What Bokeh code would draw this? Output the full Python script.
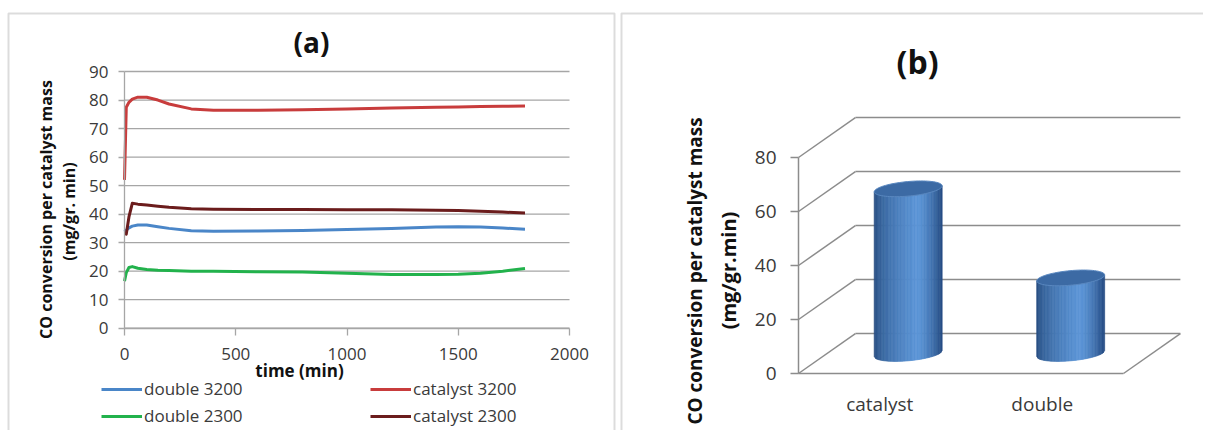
import numpy as np
from bokeh.plotting import figure
from bokeh.layouts import row
from bokeh.models import Range1d, FixedTicker, Legend, LegendItem, Label, BoxAnnotation
from bokeh.embed import file_html
from bokeh.resources import INLINE

# ---------------- data: panel (a) ----------------
time_min = [0, 8, 20, 35, 60, 100, 150, 200, 300, 400, 600, 800, 1000, 1200, 1400, 1500, 1600, 1700, 1800]
double_3200 = [33.8, 34.4, 35.2, 35.8, 36.2, 36.2, 35.6, 35.0, 34.2, 34.0, 34.1, 34.3, 34.6, 35.0, 35.5, 35.6, 35.5, 35.1, 34.7]
catalyst_3200 = [52.0, 77.5, 79.2, 80.3, 81.0, 81.0, 80.0, 78.6, 76.9, 76.4, 76.4, 76.6, 76.9, 77.2, 77.5, 77.6, 77.7, 77.8, 77.9]
double_2300 = [16.5, 19.5, 21.3, 21.6, 21.0, 20.6, 20.3, 20.2, 20.0, 20.0, 19.8, 19.7, 19.3, 18.8, 18.8, 18.9, 19.3, 20.0, 20.9]
catalyst_2300 = [33.3, 33.0, 39.0, 43.8, 43.5, 43.2, 42.8, 42.4, 41.9, 41.7, 41.6, 41.6, 41.5, 41.5, 41.4, 41.3, 41.0, 40.7, 40.4]
x_ticks_a = [0, 500, 1000, 1500, 2000]
y_ticks_a = [0, 10, 20, 30, 40, 50, 60, 70, 80, 90]

# ---------------- data: panel (b) ----------------
bar_categories = ["catalyst", "double"]
bar_values = [61, 28]
y_ticks_b = [0, 20, 40, 60, 80]

FONT = "Open Sans"
TXT = "#3a3a3a"
DARK = "#111111"
GRID = "#a6a6a6"
BORDER = "#8c8c8c"
H = 430

# ================= panel (a) =================
WA = 617
ax0, ay0, sx_a, sy_a = 124.0, 327.7, 0.2225, 2.852
pa = figure(width=WA, height=H, output_backend="svg", toolbar_location=None,
            x_range=Range1d(-ax0 / sx_a, (WA - ax0) / sx_a),
            y_range=Range1d(-(H - ay0) / sy_a, ay0 / sy_a), min_border=0)
pa.min_border_left = pa.min_border_right = pa.min_border_top = pa.min_border_bottom = 0
pa.title.visible = False
pa.outline_line_color = None
pa.xgrid.visible = False
pa.ygrid.visible = False

pa.segment(x0=[x_ticks_a[0]] * len(y_ticks_a), y0=y_ticks_a, x1=[x_ticks_a[-1]] * len(y_ticks_a), y1=y_ticks_a,
           line_color=GRID, line_width=1.3)

for ax in (pa.xaxis[0], pa.yaxis[0]):
    ax.fixed_location = 0
    ax.axis_line_color = GRID
    ax.axis_line_width = 1.3
    ax.major_tick_line_color = GRID
    ax.major_tick_line_width = 1.3
    ax.major_tick_in = 0
    ax.minor_tick_line_color = None
    ax.major_label_text_font = FONT
    ax.major_label_text_font_size = "17px"
    ax.major_label_text_color = TXT
pa.xaxis.ticker = FixedTicker(ticks=x_ticks_a)
pa.yaxis.ticker = FixedTicker(ticks=y_ticks_a)
pa.xaxis.bounds = (x_ticks_a[0], x_ticks_a[-1])
pa.yaxis.bounds = (y_ticks_a[0], y_ticks_a[-1])
pa.xaxis.major_tick_out = 7
pa.yaxis.major_tick_out = 6
pa.xaxis.major_label_standoff = 13
pa.yaxis.major_label_standoff = 10

r_d32 = pa.line(time_min, double_3200, line_color="#4a86c8", line_width=3, line_join="round")
r_c32 = pa.line(time_min, catalyst_3200, line_color="#c83c3c", line_width=3, line_join="round")
r_d23 = pa.line(time_min, double_2300, line_color="#22b24c", line_width=3, line_join="round")
r_c23 = pa.line(time_min, catalyst_2300, line_color="#6b1c1c", line_width=3, line_join="round")

def make_legend(items, loc):
    return Legend(items=items, location=loc, orientation="vertical", padding=0, spacing=4,
                  glyph_width=41, glyph_height=20, label_standoff=2, margin=0,
                  label_text_font=FONT, label_text_font_size="17px", label_text_color=TXT,
                  border_line_color=None, background_fill_alpha=0)

pa.add_layout(make_legend([LegendItem(label="double 3200", renderers=[r_d32]),
                           LegendItem(label="double 2300", renderers=[r_d23])], (101, 3)))
pa.add_layout(make_legend([LegendItem(label="catalyst 3200", renderers=[r_c32]),
                           LegendItem(label="catalyst 2300", renderers=[r_c23])], (370, 3)))

def lab(p, x, y, text, size, angle=0, bold=True, color=DARK):
    p.add_layout(Label(x=x, y=y, x_units="screen", y_units="screen", text=text, angle=angle, angle_units="deg",
                       text_font=FONT, text_font_size=size, text_font_style="bold" if bold else "normal",
                       text_align="center", text_baseline="middle", text_color=color))

lab(pa, 311, H - 41, "(a)", "28px")
lab(pa, 45, H - 209, "CO conversion per catalyst mass", "16px", angle=90)
lab(pa, 68, H - 211, "(mg/gr. min)", "16px", angle=90)
lab(pa, 299, H - 370, "time (min)", "17px")
pa.add_layout(BoxAnnotation(left=8, right=614, top=13, bottom=H + 10,
                            left_units="canvas", right_units="canvas", top_units="canvas", bottom_units="canvas",
                            fill_color=None, line_color=BORDER, line_width=2))

# ================= panel (b) : 3-D cylinders =================
WB = 586
X0B = 617
bx0, by0, sx_b, sy_b = 798.0 - X0B, 373.0, 162.5, 2.7
DX = 0.35
DY = 14.8
pb = figure(width=WB, height=H, output_backend="svg", toolbar_location=None,
            x_range=Range1d(-bx0 / sx_b, (WB - bx0) / sx_b),
            y_range=Range1d(-(H - by0) / sy_b, by0 / sy_b), min_border=0)
pb.min_border_left = pb.min_border_right = pb.min_border_top = pb.min_border_bottom = 0
pb.title.visible = False
pb.outline_line_color = None
pb.xgrid.visible = False
pb.ygrid.visible = False

n = len(bar_categories)
m = len(y_ticks_b)
pb.segment(x0=[DX] * m, y0=[v + DY for v in y_ticks_b], x1=[n + DX] * m, y1=[v + DY for v in y_ticks_b],
           line_color=BORDER, line_width=1.5)
pb.segment(x0=[0] * m, y0=y_ticks_b, x1=[DX] * m, y1=[v + DY for v in y_ticks_b], line_color=BORDER, line_width=1.5)
pb.segment(x0=[n], y0=[0], x1=[n + DX], y1=[DY], line_color=BORDER, line_width=1.5)

BW = 0.418
RY = 2.7
TILT = 1.1
dark_l = np.array([0x22, 0x46, 0x78])
light = np.array([0x5c, 0x96, 0xd8])
dark_r = np.array([0x25, 0x4b, 0x82])

def shade(t):
    pk = 0.63
    if t < pk:
        f = (t / pk) ** 0.55
        c = dark_l + (light - dark_l) * f
    else:
        f = ((t - pk) / (1 - pk)) ** 1.5
        c = light + (dark_r - light) * f
    c = np.clip(c, 0, 255).astype(int)
    return "#%02x%02x%02x" % tuple(c)

xs, ys, cols = [], [], []
tx, ty = [], []
NS = 48
for i, val in enumerate(bar_values):
    cx = i + 0.5 + DX / 2
    base = DY / 2
    top = base + val
    hw = BW / 2
    for k in range(NS):
        u0 = -1 + 2 * k / NS
        u1 = -1 + 2 * (k + 1) / NS
        b0 = base + TILT * u0 - RY * np.sqrt(max(0, 1 - u0 ** 2))
        b1 = base + TILT * u1 - RY * np.sqrt(max(0, 1 - u1 ** 2))
        xs.append([cx + u0 * hw, cx + u1 * hw, cx + u1 * hw, cx + u0 * hw])
        ys.append([top + TILT * u0, top + TILT * u1, b1, b0])
        cols.append(shade((k + 0.5) / NS))
    th = np.linspace(0, 2 * np.pi, 80)
    tx.append(list(cx + hw * np.cos(th)))
    ty.append(list(top + TILT * np.cos(th) + RY * np.sin(th)))

pb.patches(xs, ys, fill_color=cols, line_color=cols, line_width=0.7)
pb.patches(tx, ty, fill_color="#3c6aa4", line_color="#5a88c0", line_width=1)

for ax in (pb.xaxis[0], pb.yaxis[0]):
    ax.fixed_location = 0
    ax.axis_line_color = BORDER
    ax.axis_line_width = 1.5
    ax.major_tick_line_color = BORDER
    ax.major_tick_line_width = 1.5
    ax.major_tick_in = 0
    ax.minor_tick_line_color = None
    ax.major_label_text_font = FONT
    ax.major_label_text_font_size = "19px"
    ax.major_label_text_color = TXT
pb.yaxis.ticker = FixedTicker(ticks=y_ticks_b)
pb.yaxis.bounds = (y_ticks_b[0], y_ticks_b[-1])
pb.yaxis.major_tick_out = 8
pb.yaxis.major_label_standoff = 14
pb.xaxis.ticker = FixedTicker(ticks=[i + 0.5 for i in range(n)])
pb.xaxis.major_label_overrides = {i + 0.5: c for i, c in enumerate(bar_categories)}
pb.xaxis.bounds = (0, n)
pb.xaxis.major_tick_line_color = None
pb.xaxis.major_tick_out = 0
pb.xaxis.major_label_standoff = 17

lab(pb, 917 - X0B, H - 61, "(b)", "32px")
lab(pb, 694 - X0B, H - 268, "CO  conversion per catalyst mass", "19px", angle=90)
lab(pb, 728 - X0B, H - 270, "(mg/gr.min)", "20px", angle=90)
pb.add_layout(BoxAnnotation(left=621 - X0B, right=WB + 20, top=13, bottom=H + 10,
                            left_units="canvas", right_units="canvas", top_units="canvas", bottom_units="canvas",
                            fill_color=None, line_color=BORDER, line_width=2))

layout = row(pa, pb)
open("out.html", "w").write(file_html(layout, INLINE))
